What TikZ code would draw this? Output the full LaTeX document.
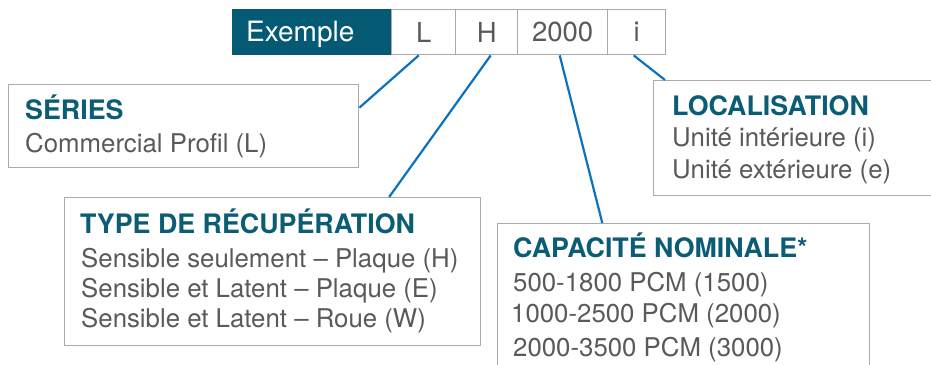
\documentclass[tikz,border=0pt]{standalone}
\usepackage{fontspec}
\setmainfont{TeX Gyre Heros}
\usetikzlibrary{calc}
\definecolor{hdcol}{HTML}{0B5C75}
\definecolor{exfill}{HTML}{035A72}
\definecolor{linkcol}{HTML}{0A72C0}
\definecolor{boxcol}{HTML}{AAAAAA}
\definecolor{txtcol}{HTML}{5A5A5A}
\tikzset{
  box/.style={draw=boxcol, line width=1.4pt, fill=white, inner sep=0pt, anchor=north west},
  cell/.style={draw=boxcol, line width=1.4pt, fill=white, inner sep=0pt, anchor=north west,
    minimum height=45pt, text=txtcol, font=\fontsize{27.5}{30}\selectfont},
  head/.style={anchor=base west, inner sep=0pt, text=hdcol, font=\fontsize{26.8}{30}\selectfont\bfseries},
  body/.style={anchor=base west, inner sep=0pt, text=txtcol, font=\fontsize{25.8}{30}\selectfont},
  link/.style={draw=linkcol, line width=2.2pt}
}
\begin{document}
\begin{tikzpicture}[x=1pt,y=-1pt]
\useasboundingbox (0,0) rectangle (931,364);
% header row
\node[cell, fill=exfill, draw=exfill, minimum width=159pt] (ex) at (232,9) {};
\node[anchor=base west, inner sep=0pt, text=white, font=\fontsize{28}{30}\selectfont] (ext) at (246,41) {Exemple};
\node[cell, minimum width=64pt] (cL) at (391,9) {L};
\node[cell, minimum width=62pt] (cH) at (455,9) {H};
\node[cell, minimum width=90pt] (cN) at (517,9) {2000};
\node[cell, minimum width=58pt] (cI) at (607,9) {i};
% boxes
\node[box, minimum width=350pt, minimum height=83pt] (ser) at (8,84) {};
\node[box, minimum width=300pt, minimum height=115pt] (loc) at (653,80) {};
\node[box, minimum width=416pt, minimum height=148pt] (typ) at (64,197) {};
\node[box, minimum width=372pt, minimum height=160pt] (cap) at (497,223) {};
% connectors
\draw[link] ($(cL.south)+(-5,0)$) -- ($(ser.north east)!0.28!(ser.south east)$);
\draw[link] ($(cH.south)+(4,0)$) -- ($(typ.north west)!0.779!(typ.north east)$);
\draw[link] ($(cN.south)+(-3,0)$) -- ($(cap.north west)!0.282!(cap.north east)$);
\draw[link] ($(cI.south)+(-3,0)$) -- ($(loc.north west)+(12,0)$);
% texts
\node[head] (serh) at (25,119) {SÉRIES};
\node[body] (ser1) at (25,152) {Commercial Profil (L)};
\node[head] (loch) at (672,115) {LOCALISATION};
\node[body] (loc1) at (672,146) {Unité intérieure (i)};
\node[body] (loc2) at (672,178) {Unité extérieure (e)};
\node[head] (typh) at (80,233) {TYPE DE RÉCUPÉRATION};
\node[body] (typ1) at (81,267) {Sensible seulement – Plaque (H)};
\node[body] (typ2) at (81,297) {Sensible et Latent – Plaque (E)};
\node[body] (typ3) at (81,327) {Sensible et Latent – Roue (W)};
\node[head] (caph) at (513,257) {CAPACITÉ NOMINALE*};
\node[body] (cap1) at (513,291) {500-1800 PCM (1500)};
\node[body] (cap2) at (511,322) {1000-2500 PCM (2000)};
\node[body] (cap3) at (513,356) {2000-3500 PCM (3000)};
\end{tikzpicture}
\end{document}
